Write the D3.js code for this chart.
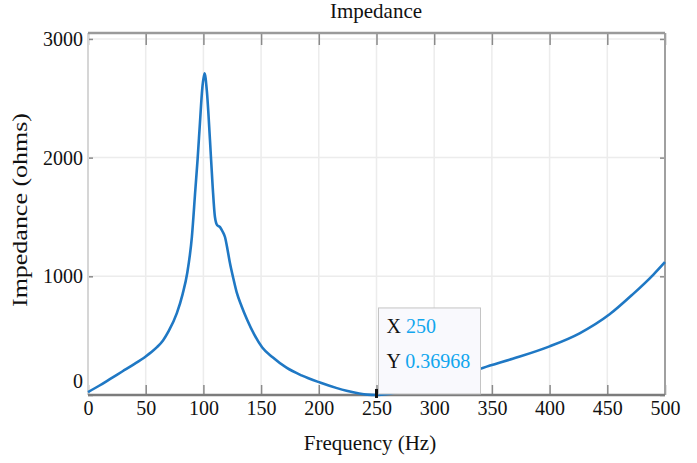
<!DOCTYPE html>
<html>
<head>
<meta charset="utf-8">
<script src="https://cdn.jsdelivr.net/npm/d3@7"></script>
<style>
  body { margin: 0; background: #fff; }
  svg text { font-family: "Liberation Serif", "Times New Roman", serif; }
</style>
</head>
<body>
<div id="wrapper"></div>
<script>
// data
const freq = [0, 10, 20, 30, 40, 50, 55, 60, 65, 70, 77, 82, 86, 90, 93, 95, 97, 99, 101, 103, 105.7,
  108, 110, 112, 114.4, 116.5, 118.7, 121, 123, 126, 129, 133, 138, 144, 151, 160, 172, 185,
  201, 215, 224, 235, 242, 250, 260, 275, 300, 325, 342, 368, 400, 426, 452, 472, 490, 500]
const impedance = [25, 80, 140, 200, 260, 325, 362, 405, 460, 540, 690, 850, 1028, 1330, 1727, 1990, 2292, 2580, 2710, 2560, 2148,
  1760, 1500, 1430, 1415, 1380, 1331, 1220, 1112, 980, 860, 750, 632, 510, 400, 318, 230, 165,
  105, 60, 35, 12, 3, 0.37, 8, 40, 95, 165, 227, 305, 410, 520, 680, 848, 1015, 1120]
const xTicks = [0, 50, 100, 150, 200, 250, 300, 350, 400, 450, 500]
const yTicks = [0, 1000, 2000, 3000]
const cursorX = 250
const cursorY = 0.36968

const dataset = freq.map((f, i) => ({ f: f, z: impedance[i] }))

const dimensions = {
  width: 697,
  height: 463,
  margin: { top: 33, right: 32, bottom: 68, left: 88 },
}
dimensions.boundedWidth = dimensions.width - dimensions.margin.left - dimensions.margin.right
dimensions.boundedHeight = dimensions.height - dimensions.margin.top - dimensions.margin.bottom

const wrapper = d3.select("#wrapper")
  .append("svg")
  .attr("width", dimensions.width)
  .attr("height", dimensions.height)

wrapper.append("rect")
  .attr("width", dimensions.width)
  .attr("height", dimensions.height)
  .attr("fill", "#fff")

const bounds = wrapper.append("g")
  .attr("transform", `translate(${dimensions.margin.left},${dimensions.margin.top})`)

const xScale = d3.scaleLinear()
  .domain([0, 500])
  .range([0, dimensions.boundedWidth])

const yScale = d3.scaleLinear()
  .domain([0, 3050])
  .range([dimensions.boundedHeight, 0])

// grid
bounds.append("g").selectAll("line")
  .data(xTicks)
  .join("line")
  .attr("x1", d => xScale(d))
  .attr("x2", d => xScale(d))
  .attr("y1", 0)
  .attr("y2", dimensions.boundedHeight)
  .attr("stroke", "#ececec")
  .attr("stroke-width", 1.5)

bounds.append("g").selectAll("line")
  .data(yTicks.filter(d => d > 0))
  .join("line")
  .attr("x1", 0)
  .attr("x2", dimensions.boundedWidth)
  .attr("y1", d => yScale(d))
  .attr("y2", d => yScale(d))
  .attr("stroke", "#ececec")
  .attr("stroke-width", 1.5)

// axes (ticks point inward)
const xAxis = bounds.append("g")
  .attr("transform", `translate(0,${dimensions.boundedHeight})`)
  .call(d3.axisBottom(xScale).tickValues(xTicks).tickSizeInner(-10).tickSizeOuter(0).tickPadding(6))
xAxis.select(".domain").remove()

const xAxisTop = bounds.append("g")
  .call(d3.axisTop(xScale).tickValues(xTicks).tickSizeInner(-12).tickSizeOuter(0).tickFormat(""))
xAxisTop.select(".domain").remove()

const yAxis = bounds.append("g")
  .call(d3.axisLeft(yScale).tickValues(yTicks).tickFormat(d3.format("d"))
    .tickSizeInner(-5).tickSizeOuter(0).tickPadding(5))
yAxis.select(".domain").remove()
yAxis.selectAll(".tick text").filter(d => d === 0).attr("y", -14)

const yAxisRight = bounds.append("g")
  .attr("transform", `translate(${dimensions.boundedWidth},0)`)
  .call(d3.axisRight(yScale).tickValues(yTicks).tickSizeInner(-5).tickSizeOuter(0).tickFormat(""))
yAxisRight.select(".domain").remove()

bounds.selectAll(".tick line").attr("stroke", "#8a8a8a").attr("stroke-width", 1.5)
bounds.selectAll(".tick text").attr("font-size", 20).attr("fill", "#111")
  .style("font-family", "'Liberation Serif', 'Times New Roman', serif")

// box
const box = bounds.append("g").attr("fill", "none")
box.append("line").attr("x1", 0).attr("x2", 0).attr("y1", 0).attr("y2", dimensions.boundedHeight)
  .attr("stroke", "#d6d6d6").attr("stroke-width", 2)
box.append("line").attr("x1", dimensions.boundedWidth).attr("x2", dimensions.boundedWidth)
  .attr("y1", 0).attr("y2", dimensions.boundedHeight)
  .attr("stroke", "#a0a0a0").attr("stroke-width", 2)
box.append("line").attr("x1", 0).attr("x2", dimensions.boundedWidth).attr("y1", 0).attr("y2", 0)
  .attr("stroke", "#9a9a9a").attr("stroke-width", 2.5)
box.append("line").attr("x1", 0).attr("x2", dimensions.boundedWidth)
  .attr("y1", dimensions.boundedHeight).attr("y2", dimensions.boundedHeight)
  .attr("stroke", "#7c7c7c").attr("stroke-width", 2.5)

// curve
const lineGenerator = d3.line()
  .x(d => xScale(d.f))
  .y(d => yScale(d.z))
  .curve(d3.curveMonotoneX)

bounds.append("path")
  .datum(dataset)
  .attr("d", lineGenerator)
  .attr("fill", "none")
  .attr("stroke", "#1f78c4")
  .attr("stroke-width", 2.6)
  .attr("stroke-linejoin", "round")

// data tip
bounds.append("rect")
  .attr("x", xScale(cursorX) - 1.5)
  .attr("y", yScale(cursorY) - 6)
  .attr("width", 3)
  .attr("height", 9)
  .attr("fill", "#111")

const tip = bounds.append("g")
  .attr("transform", `translate(${xScale(cursorX) + 2},${yScale(cursorY) - 87})`)

tip.append("rect")
  .attr("width", 102)
  .attr("height", 86)
  .attr("fill", "#f9f9fd")
  .attr("stroke", "#c4c4c4")
  .attr("stroke-width", 1)

const tipRows = [["X ", cursorX], ["Y ", cursorY]]
tip.selectAll("text")
  .data(tipRows)
  .join("text")
  .attr("x", 8)
  .attr("y", (d, i) => 25 + i * 35)
  .attr("font-size", 20)
  .call(t => t.append("tspan").attr("fill", "#111").text(d => d[0]))
  .call(t => t.append("tspan").attr("fill", "#12a6ee").text(d => d[1]))

// labels
wrapper.append("text")
  .attr("x", 376)
  .attr("y", 18)
  .attr("text-anchor", "middle")
  .attr("font-size", 21)
  .attr("fill", "#111")
  .text("Impedance")

wrapper.append("text")
  .attr("x", 370)
  .attr("y", 450)
  .attr("text-anchor", "middle")
  .attr("font-size", 21)
  .attr("fill", "#111")
  .text("Frequency (Hz)")

wrapper.append("text")
  .attr("transform", "translate(27,210) rotate(-90)")
  .attr("text-anchor", "middle")
  .attr("font-size", 20)
  .attr("textLength", 194)
  .attr("lengthAdjust", "spacingAndGlyphs")
  .attr("fill", "#111")
  .text("Impedance (ohms)")
</script>
</body>
</html>
